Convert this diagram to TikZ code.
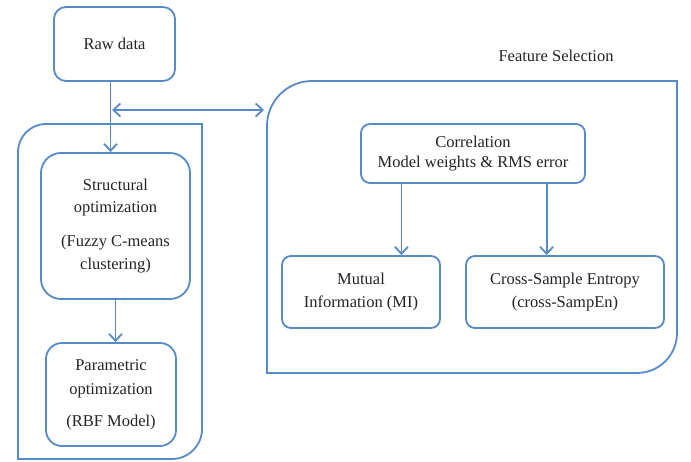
\documentclass[tikz,border=0pt]{standalone}
\usepackage{fontspec}
\setmainfont{Liberation Serif}
\usetikzlibrary{arrows.meta,positioning,calc}

\definecolor{flowblue}{RGB}{86,138,200}
\definecolor{flowtext}{RGB}{35,35,35}

\begin{document}
\begin{tikzpicture}[
  x=1pt, y=1pt,
  font=\fontsize{16.5pt}{20pt}\selectfont,
  text=flowtext,
  box/.style={draw=flowblue, line width=1.8pt, align=center, inner sep=0pt},
  bigbox/.style={box, rounded corners=14pt},
  smallbox/.style={box, rounded corners=9pt},
  frame/.style={draw=flowblue, line width=1.8pt},
  arrow/.style={draw=flowblue, line width=1.8pt, -{Straight Barb[length=7pt,width=13pt]}},
  dblarrow/.style={arrow, {Straight Barb[length=7pt,width=13pt]}-{Straight Barb[length=7pt,width=13pt]}}
]
\useasboundingbox (0,0) rectangle (691,462);

% containers
\draw[frame] (18,3) -- (18,310) arc[start angle=180, end angle=90, radius=28]
  -- (202,338) -- (202,33) arc[start angle=0, end angle=-90, radius=30] -- cycle;
\draw[frame] (267,89) -- (267,336) arc[start angle=180, end angle=90, radius=45]
  -- (677,381) -- (677,129) arc[start angle=0, end angle=-90, radius=40] -- cycle;

% left column
\node[bigbox, minimum width=121pt, minimum height=74pt, rounded corners=12pt] (raw) at (114.5,418) {Raw data};
\node[bigbox, minimum width=149pt, minimum height=146pt, rounded corners=20pt] (struct) at (115.5,236) {
  Structural\\[2pt]
  optimization\\[14pt]
  (Fuzzy C-means\\[3pt]
  clustering)
};
\node[bigbox, minimum width=130pt, minimum height=103pt, rounded corners=16pt] (param) at (111,67.5) {
  Parametric\\[4pt]
  optimization\\[12pt]
  (RBF Model)
};

% feature selection
\node (fslabel) at (556,406) {Feature Selection};
\node[smallbox, minimum width=224pt, minimum height=59pt] (corr) at (473,308.5) {
  Correlation\\
  Model weights \& RMS error
};
\node[smallbox, minimum width=158pt, minimum height=72pt] (mi) at (361,170) {
  Mutual\\[3pt]
  Information (MI)
};
\node[smallbox, minimum width=198pt, minimum height=72pt] (cse) at (565,170) {
  Cross-Sample Entropy\\[3pt]
  (cross-SampEn)
};

\coordinate (split) at (112,352);
\coordinate (fsleft) at (264,352);
\coordinate (corrL) at ($(corr.south west)!0.183!(corr.south east)$);
\coordinate (corrR) at ($(corr.south west)!0.826!(corr.south east)$);

\draw[arrow] ([xshift=-4pt]raw.south) -- ([xshift=-4pt]raw.south |- struct.north);
\draw[dblarrow] (split) -- (fsleft);
\draw[arrow] (struct.south) -- (struct.south |- param.north);
\draw[arrow] (corrL) -- (corrL |- mi.north);
\draw[arrow] (corrR) -- (corrR |- cse.north);

\end{tikzpicture}
\end{document}
